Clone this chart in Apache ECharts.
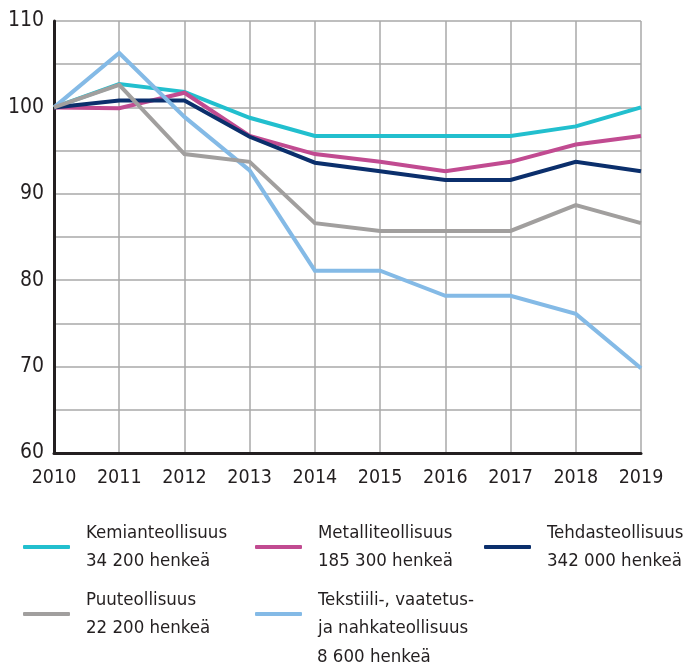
<!DOCTYPE html>
<html>
<head>
<meta charset="utf-8">
<script src="https://cdn.jsdelivr.net/npm/echarts@6/dist/echarts.min.js"></script>
<style>
html,body{margin:0;padding:0;background:#fff;}
#c{width:689px;height:668px;}
</style>
</head>
<body>
<div id="c"></div>
<script>
var years = ['2010','2011','2012','2013','2014','2015','2016','2017','2018','2019'];
var kemia = [100, 102.7, 101.8, 98.8, 96.7, 96.7, 96.7, 96.7, 97.8, 100];
var metalli = [100, 99.9, 101.7, 96.7, 94.6, 93.7, 92.6, 93.7, 95.7, 96.7];
var tehdas = [100, 100.8, 100.8, 96.6, 93.6, 92.6, 91.6, 91.6, 93.7, 92.6];
var puu = [100, 102.6, 94.6, 93.7, 86.6, 85.7, 85.7, 85.7, 88.7, 86.6];
var tekstiili = [100, 106.3, 98.9, 92.7, 81.1, 81.1, 78.2, 78.2, 76.1, 69.8];
var yTicks = [60, 70, 80, 90, 100, 110];

var names = {
  kemia: 'Kemianteollisuus\n34 200 henkeä',
  metalli: 'Metalliteollisuus\n185 300 henkeä',
  tehdas: 'Tehdasteollisuus\n342 000 henkeä',
  puu: 'Puuteollisuus\n22 200 henkeä',
  tekstiili: 'Tekstiili-, vaatetus-\nja nahkateollisuus'
};
var extraLine = '8 600 henkeä';

var FONT = '"DejaVu Sans Condensed", "Liberation Sans Narrow", "Noto Sans", sans-serif';
var TXT = '#231f20';
var LFS = 18.5;
var colors = {
  kemia: '#22bfce',
  metalli: '#c14b91',
  tehdas: '#0b2f6c',
  puu: '#a19f9e',
  tekstiili: '#84bae6'
};

function mkSeries(key, data, z) {
  return {
    name: names[key], type: 'line', data: data, symbol: 'none', z: z,
    lineStyle: {color: colors[key], width: 4, join: 'miter'},
    itemStyle: {color: colors[key]}
  };
}
function mkLegend(key, left, top) {
  return {
    data: [names[key]], left: left, top: top, orient: 'vertical',
    icon: 'roundRect', itemWidth: 47, itemHeight: 4, itemGap: 0,
    padding: 0, selectedMode: false,
    textStyle: {fontFamily: FONT, fontSize: LFS, color: TXT, lineHeight: 28, padding: [0, 0, 0, 11]}
  };
}

var chart = echarts.init(document.getElementById('c'));
chart.setOption({
  animation: false,
  backgroundColor: '#fff',
  grid: {left: 54, right: 48, top: 21, bottom: 215},
  xAxis: {
    type: 'category', data: years, boundaryGap: false,
    axisLine: {lineStyle: {color: '#231f20', width: 3}},
    axisTick: {show: false},
    axisLabel: {fontFamily: FONT, fontSize: 19.5, color: TXT, margin: 15, interval: 0},
    splitLine: {show: true, interval: 0, lineStyle: {color: '#a8a8a8', width: 1.5}}
  },
  yAxis: {
    type: 'value', min: 60, max: 110, interval: 5,
    axisLine: {show: true, lineStyle: {color: '#231f20', width: 3}},
    axisTick: {show: false},
    axisLabel: {
      fontFamily: FONT, fontSize: 21, color: TXT, margin: 10, padding: [8, 0, 0, 0],
      formatter: function (v) { return yTicks.indexOf(v) >= 0 ? String(v) : ''; }
    },
    splitLine: {show: true, lineStyle: {color: '#a8a8a8', width: 1.5}}
  },
  legend: [
    mkLegend('kemia', 23, 519),
    mkLegend('metalli', 255, 519),
    mkLegend('tehdas', 484, 519),
    mkLegend('puu', 23, 586),
    mkLegend('tekstiili', 255, 586)
  ],
  graphic: [{
    type: 'text', left: 317, top: 648,
    style: {text: extraLine, fontFamily: FONT, fontSize: LFS, fill: TXT}
  }],
  series: [
    mkSeries('kemia', kemia, 2),
    mkSeries('metalli', metalli, 3),
    mkSeries('tehdas', tehdas, 4),
    mkSeries('tekstiili', tekstiili, 5),
    mkSeries('puu', puu, 6)
  ]
});
</script>
</body>
</html>
